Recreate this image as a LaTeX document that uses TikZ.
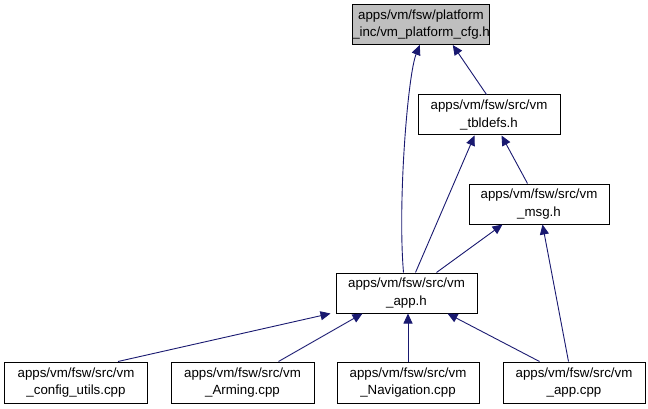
\documentclass[tikz,border=0pt]{standalone}
\usepackage{fontspec}
\setmainfont{Liberation Sans}
\usetikzlibrary{arrows.meta}
\definecolor{edgeblue}{RGB}{25,25,112}
\definecolor{topgray}{RGB}{191,191,191}
\begin{document}
\begin{tikzpicture}[x=1pt,y=-1pt,
  box/.style={draw=black, line width=1pt, fill=white, minimum height=40pt, inner sep=0pt,
    align=center, font=\fontsize{13.3}{17.5}\selectfont},
  dep/.style={draw=edgeblue, line width=0.9pt, -{Triangle[length=10pt,width=9pt]}}]
\useasboundingbox (0,0) rectangle (648,409);
\node[box, fill=topgray, minimum width=134pt] (top) at (421,24.5) {apps/vm/fsw/platform\\\_inc/vm\_platform\_cfg.h};
\node[box, minimum width=142pt] (tbl) at (489,115) {apps/vm/fsw/src/vm\\\_tbldefs.h};
\node[box, minimum width=140pt] (msg) at (539,204) {apps/vm/fsw/src/vm\\\_msg.h};
\node[box, minimum width=141pt] (app) at (406.5,293) {apps/vm/fsw/src/vm\\\_app.h};
\node[box, minimum width=143pt, minimum height=41pt] (cfg) at (76,382.5) {apps/vm/fsw/src/vm\\\_config\_utils.cpp};
\node[box, minimum width=143pt, minimum height=41pt] (arm) at (242.5,382.5) {apps/vm/fsw/src/vm\\\_Arming.cpp};
\node[box, minimum width=142pt, minimum height=41pt] (nav) at (408,382.5) {apps/vm/fsw/src/vm\\\_Navigation.cpp};
\node[box, minimum width=142pt, minimum height=41pt] (cpp) at (574,382.5) {apps/vm/fsw/src/vm\\\_app.cpp};
% edges
\draw[dep] ([xshift=69pt]tbl.north west) -- ([xshift=101pt]top.south west);
\draw[dep] ([xshift=68pt]app.north west) .. controls +(-6,-70) and +(-12,30) .. ([xshift=68pt]top.south west);
\draw[dep] ([xshift=80pt]app.north west) -- ([xshift=57pt]tbl.south west);
\draw[dep] ([xshift=59pt]msg.north west) -- ([xshift=84pt]tbl.south west);
\draw[dep] ([xshift=101pt]app.north west) -- ([xshift=34pt]msg.south west);
\draw[dep] ([xshift=66pt]cpp.north west) -- ([xshift=74pt]msg.south west);
\draw[dep] ([xshift=-30pt]cfg.north east) -- ([xshift=-5pt]app.south west);
\draw[dep] ([xshift=-36pt]arm.north east) -- ([xshift=27pt]app.south west);
\draw[dep] (nav.north) -- (nav.north |- app.south);
\draw[dep] ([xshift=37pt]cpp.north west) -- ([xshift=-30pt]app.south east);
\end{tikzpicture}
\end{document}
